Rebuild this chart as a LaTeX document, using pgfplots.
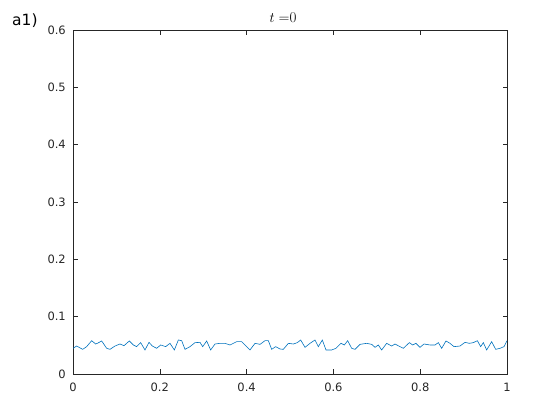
\documentclass[border=0pt]{standalone}
\usepackage{fontspec}
\setmainfont{DejaVu Sans}
\newfontfamily\lmfont{Latin Modern Roman}
\usepackage{pgfplots}
\pgfplotsset{compat=1.18}
\definecolor{mblue}{HTML}{0072BD}
\definecolor{axgray}{HTML}{262626}
\begin{document}
\begin{tikzpicture}[x=1pt,y=1pt]
\useasboundingbox (0,0) rectangle (560,420);
\begin{axis}[
    at={(73pt,46pt)}, anchor=south west,
    width=434pt, height=344pt, scale only axis,
    xmin=0, xmax=1, ymin=0, ymax=0.6,
    xtick={0,0.2,...,1}, ytick={0,0.1,...,0.6},
    xticklabels={0,0.2,0.4,0.6,0.8,1},
    yticklabels={0,0.1,0.2,0.3,0.4,0.5,0.6},
    tick align=inside, major tick length=4.5pt,
    axis line style={axgray, line width=0.5pt},
    every tick/.style={axgray, line width=0.5pt},
    tick label style={font=\fontsize{11.5}{13}\selectfont, text=axgray, inner sep=0pt},
    yticklabel style={xshift=-7pt},
    xticklabel style={yshift=-9pt},
    /pgf/number format/assume math mode=true,
]
\addplot[mblue, line width=0.6pt] coordinates {
(0,0.0448) (0.0084,0.0488) (0.0223,0.0430) (0.0315,0.0477) (0.0430,0.0581)
(0.0522,0.0523) (0.0561,0.0535) (0.0661,0.0576) (0.0776,0.0448) (0.0853,0.0430)
(0.0968,0.0488) (0.1083,0.0523) (0.1175,0.0494) (0.1298,0.0576) (0.1390,0.0506)
(0.1467,0.0477) (0.1559,0.0547) (0.1659,0.0419) (0.1751,0.0552) (0.1828,0.0488)
(0.1928,0.0448) (0.2020,0.0506) (0.2135,0.0477) (0.2235,0.0535) (0.2335,0.0419)
(0.2427,0.0593) (0.2504,0.0581) (0.2581,0.0430) (0.2696,0.0477) (0.2811,0.0547)
(0.2926,0.0552) (0.2988,0.0477) (0.3080,0.0576) (0.3172,0.0419) (0.3272,0.0523)
(0.3387,0.0535) (0.3502,0.0535) (0.3618,0.0506) (0.3771,0.0564) (0.3886,0.0564)
(0.3963,0.0506) (0.4078,0.0419) (0.4194,0.0535) (0.4309,0.0517) (0.4424,0.0581)
(0.4501,0.0581) (0.4578,0.0430) (0.4670,0.0477) (0.4770,0.0436) (0.4846,0.0430)
(0.4962,0.0535) (0.5077,0.0523) (0.5169,0.0547) (0.5246,0.0593) (0.5346,0.0465)
(0.5461,0.0535) (0.5576,0.0593) (0.5653,0.0477) (0.5745,0.0593) (0.5829,0.0419)
(0.5960,0.0419) (0.6060,0.0448) (0.6175,0.0535) (0.6252,0.0506) (0.6329,0.0581)
(0.6421,0.0448) (0.6498,0.0430) (0.6613,0.0517) (0.6767,0.0535) (0.6882,0.0517)
(0.6959,0.0465) (0.7035,0.0506) (0.7112,0.0419) (0.7227,0.0535) (0.7343,0.0488)
(0.7419,0.0523) (0.7535,0.0477) (0.7611,0.0448) (0.7750,0.0547) (0.7826,0.0506)
(0.7903,0.0535) (0.7995,0.0465) (0.8088,0.0523) (0.8226,0.0506) (0.8341,0.0506)
(0.8418,0.0547) (0.8495,0.0448) (0.8594,0.0576) (0.8687,0.0535) (0.8779,0.0477)
(0.8917,0.0488) (0.9032,0.0552) (0.9132,0.0535) (0.9224,0.0547) (0.9317,0.0581)
(0.9393,0.0477) (0.9455,0.0547) (0.9531,0.0419) (0.9647,0.0564) (0.9739,0.0430)
(0.9839,0.0448) (0.9931,0.0477) (1.0,0.0581)
};
\end{axis}
\node[anchor=base, inner sep=0pt, text=black] at (283,397)
  {\lmfont\fontsize{15}{18}\selectfont $t =$0};
\node[anchor=base west, inner sep=0pt, text=black] at (12,394)
  {\fontsize{15.5}{18}\selectfont a1)};
\end{tikzpicture}
\end{document}
